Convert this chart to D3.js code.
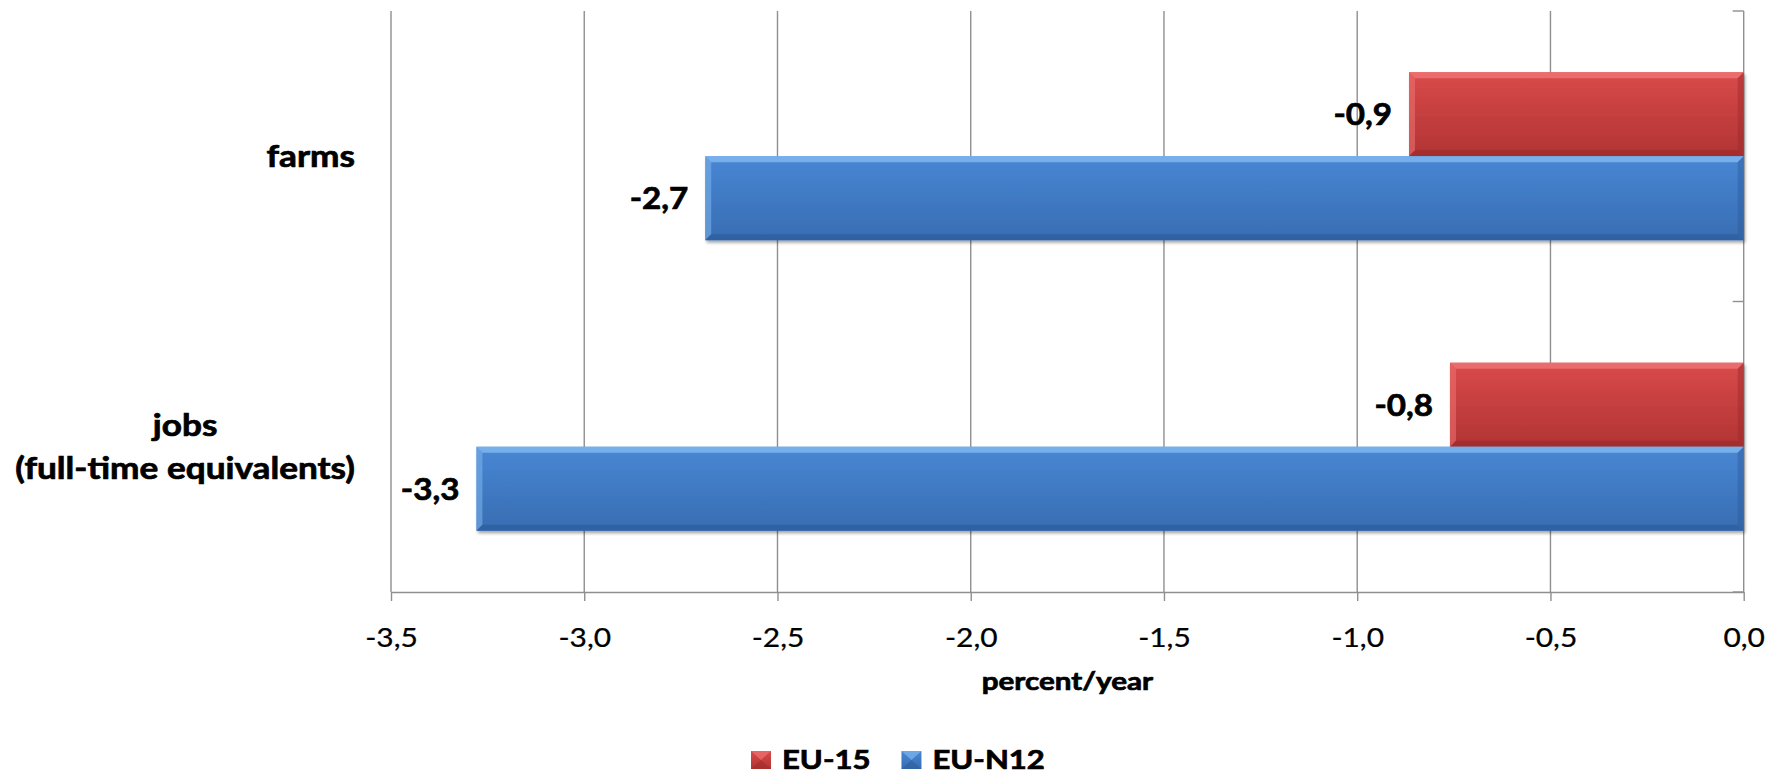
<!DOCTYPE html>
<html>
<head>
<meta charset="utf-8">
<script src="https://cdn.jsdelivr.net/npm/d3@7"></script>
<style>
  html, body { margin: 0; padding: 0; background: #ffffff; }
  svg { display: block; }
  text { font-family: Lato, "Open Sans", "Liberation Sans", sans-serif; fill: #000; }
  text.bold { font-weight: 700; stroke: #000; stroke-width: 0.7px; }
</style>
</head>
<body>
<svg id="chart" width="1781" height="774"></svg>
<script>
// ---- data ----
const categories = ["farms", "jobs\n(full-time equivalents)"];
const seriesNames = ["EU-15", "EU-N12"];
const eu15 = [-0.866, -0.76];
const euN12 = [-2.687, -3.279];
const valueLabels15 = ["-0,9", "-0,8"];
const valueLabelsN12 = ["-2,7", "-3,3"];
const xTicks = [-3.5, -3.0, -2.5, -2.0, -1.5, -1.0, -0.5, 0.0];
const xTickLabels = ["-3,5", "-3,0", "-2,5", "-2,0", "-1,5", "-1,0", "-0,5", "0,0"];
const axisTitle = "percent/year";

const seriesValues = [eu15, euN12];
const seriesLabels = [valueLabels15, valueLabelsN12];
const palette = {
  "EU-15": { light: "#ee7272", dark: "#9a2a2a", top: "#d94a4a", bottom: "#b23434" },
  "EU-N12": { light: "#7fb6ee", dark: "#2c5a98", top: "#4887d4", bottom: "#386db2" }
};

// ---- layout ----
const svg = d3.select("#chart");
const plot = { left: 391, right: 1743.7, top: 11, bottom: 592 };
const SX = 1.15; // horizontal text stretch of the reference

const x = d3.scaleLinear().domain([-3.5, 0]).range([plot.left, plot.right]);
const y0 = d3.scaleBand().domain(categories).range([plot.top, plot.bottom]).padding(0);
const y1 = d3.scaleBand().domain(seriesNames).range([0, y0.bandwidth()])
  .paddingInner(0).paddingOuter(0.729);

const defs = svg.append("defs");
seriesNames.forEach((s, i) => {
  const g = defs.append("linearGradient").attr("id", "grad" + i)
    .attr("x1", 0).attr("y1", 0).attr("x2", 0).attr("y2", 1);
  g.append("stop").attr("offset", "0%").attr("stop-color", palette[s].top);
  g.append("stop").attr("offset", "100%").attr("stop-color", palette[s].bottom);
});
const shadow = defs.append("filter").attr("id", "shadow")
  .attr("x", "-5%").attr("y", "-10%").attr("width", "110%").attr("height", "130%");
shadow.append("feDropShadow").attr("dx", 1.5).attr("dy", 2.5).attr("stdDeviation", 1.8)
  .attr("flood-color", "#000").attr("flood-opacity", 0.35);

// gridlines
const gridColor = "#8f8f8f";
svg.append("g").selectAll("line").data(xTicks).join("line")
  .attr("x1", d => x(d)).attr("x2", d => x(d))
  .attr("y1", plot.top).attr("y2", plot.bottom)
  .attr("stroke", gridColor).attr("stroke-width", 1.4);

// right (category) axis with inward ticks at band boundaries
const catAxis = svg.append("g");
const boundaries = [plot.top].concat(categories.map(c => y0(c) + y0.bandwidth()));
catAxis.selectAll("line").data(boundaries).join("line")
  .attr("x1", x(0) - 11).attr("x2", x(0))
  .attr("y1", d => d).attr("y2", d => d)
  .attr("stroke", gridColor).attr("stroke-width", 1.4);

// x axis
const xAxis = d3.axisBottom(x).tickValues(xTicks)
  .tickFormat((d, i) => xTickLabels[i]).tickSize(9).tickSizeOuter(0).tickPadding(28);
const xg = svg.append("g").attr("transform", `translate(0,${plot.bottom})`).call(xAxis);
xg.select(".domain").attr("stroke", gridColor).attr("stroke-width", 1.6);
xg.selectAll(".tick line").attr("stroke", gridColor).attr("stroke-width", 1.4);
xg.selectAll(".tick text").attr("font-size", 26).attr("fill", "#000")
  .attr("font-family", "Lato, sans-serif")
  .attr("stroke", "#000").attr("stroke-width", 0.25)
  .attr("dy", "0.71em")
  .attr("transform", `scale(${SX},1)`);

// bars
const bevel = 6;
const barsG = svg.append("g");
seriesNames.forEach((s, si) => {
  const pal = palette[s];
  categories.forEach((c, ci) => {
    const v = seriesValues[si][ci];
    const x0 = x(v), x1 = x(0);
    const yt = y0(c) + y1(s), h = y1.bandwidth(), yb = yt + h;
    const g = barsG.append("g");
    g.append("rect").attr("x", x0).attr("y", yt).attr("width", x1 - x0).attr("height", h)
      .attr("fill", "url(#grad" + si + ")").attr("filter", "url(#shadow)");
    const b = bevel;
    g.append("polygon").attr("points", [[x0, yt], [x1, yt], [x1 - b, yt + b], [x0 + b, yt + b]].join(" "))
      .attr("fill", pal.light).attr("opacity", 0.85);
    g.append("polygon").attr("points", [[x0, yt], [x0 + b, yt + b], [x0 + b, yb - b], [x0, yb]].join(" "))
      .attr("fill", pal.light).attr("opacity", 0.55);
    g.append("polygon").attr("points", [[x0, yb], [x0 + b, yb - b], [x1 - b, yb - b], [x1, yb]].join(" "))
      .attr("fill", pal.dark).attr("opacity", 0.6);
    g.append("polygon").attr("points", [[x1, yt], [x1, yb], [x1 - b, yb - b], [x1 - b, yt + b]].join(" "))
      .attr("fill", pal.dark).attr("opacity", 0.45);
    const lx = x0 - 17, ly = yt + h / 2;
    svg.append("text").attr("class", "bold").attr("text-anchor", "end")
      .attr("transform", `translate(${lx},${ly}) scale(${SX * 0.93},1)`)
      .attr("dy", "0.36em")
      .attr("font-size", 31)
      .text(seriesLabels[si][ci]);
  });
});

// category labels (multi-line, block right aligned)
const labelRight = 355;
categories.forEach(c => {
  const lines = c.split("\n");
  const cy = y0(c) + y0.bandwidth() / 2;
  const lh = 43;
  const g = svg.append("g");
  const texts = lines.map((ln, i) => g.append("text").attr("class", "bold")
    .attr("font-size", 30)
    .attr("text-anchor", "middle")
    .attr("y", cy + (i - (lines.length - 1) / 2) * lh)
    .attr("dy", "0.36em")
    .text(ln));
  const maxW = d3.max(texts, t => t.node().getComputedTextLength());
  g.attr("transform", `translate(${labelRight - maxW * SX * 1.02 / 2},0) scale(${SX * 1.02},1)`);
});

// axis title
svg.append("text").attr("class", "bold").attr("text-anchor", "middle")
  .attr("transform", `translate(${(plot.left + plot.right) / 2},690) scale(${SX * 1.03},1)`)
  .attr("font-size", 25).text(axisTitle);

// legend
const legend = svg.append("g");
const LSX = SX * 1.0;
let lxPos = 751;
seriesNames.forEach((s, si) => {
  const pal = palette[s];
  const m = legend.append("g");
  m.append("rect").attr("x", lxPos).attr("y", 751).attr("width", 20).attr("height", 18)
    .attr("fill", "url(#grad" + si + ")");
  m.append("polygon").attr("points", [[lxPos, 751], [lxPos + 20, 751], [lxPos + 10, 760]].join(" "))
    .attr("fill", pal.light).attr("opacity", 0.7);
  m.append("polygon").attr("points", [[lxPos, 769], [lxPos + 20, 769], [lxPos + 10, 760]].join(" "))
    .attr("fill", pal.dark).attr("opacity", 0.5);
  const t = legend.append("text").attr("class", "bold")
    .attr("transform", `translate(${lxPos + 31},769) scale(${LSX},1)`)
    .attr("font-size", 27).text(s);
  const w = t.node().getComputedTextLength() * LSX;
  lxPos = lxPos + 31 + w + 31;
});
</script>
</body>
</html>
